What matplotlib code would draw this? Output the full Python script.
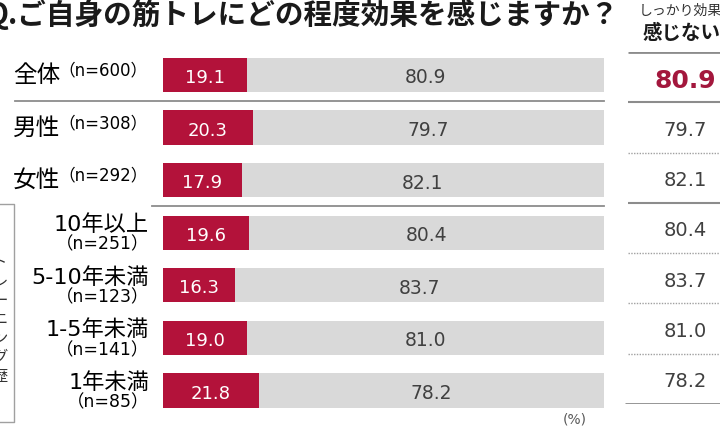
import matplotlib
matplotlib.use('Agg')
import matplotlib.pyplot as plt
from matplotlib.transforms import blended_transform_factory

plt.rcParams['font.family'] = ['DejaVu Sans', 'Noto Sans CJK JP']

# data
title = 'Q.ご自身の筋トレにどの程度効果を感じますか？'
groups = ['全体', '男性', '女性', '10年以上', '5-10年未満', '1-5年未満', '1年未満']
n_sizes = [600, 308, 292, 251, 123, 141, 85]
felt = [19.1, 20.3, 17.9, 19.6, 16.3, 19.0, 21.8]
not_felt = [80.9, 79.7, 82.1, 80.4, 83.7, 81.0, 78.2]
side_header = ['しっかり効果を', '感じない']
side_axis_label = 'トレーニング歴'

RED = '#b3123a'
DARK_RED = '#a3173d'
GRAY = '#d9d9d9'
LINE = '#8c8c8c'
W, H = 720, 435
JP = ['Noto Sans CJK JP']

fig = plt.figure(figsize=(7.2, 4.35), dpi=100)

# full-figure layer in pixel units for the decorations
bg = fig.add_axes([0, 0, 1, 1])
bg.set_xlim(0, W)
bg.set_ylim(H, 0)
bg.axis('off')


def box(l, t, r, b):
    return [l / W, 1 - b / H, (r - l) / W, (b - t) / H]


# main bar panel
ax = fig.add_axes(box(163, 49.7, 604, 417.8))
ax.set_xlim(0, 100)
ax.set_ylim(len(groups) - 0.5, -0.5)
ax.axis('off')

rows = list(range(len(groups)))
ax.barh(rows, felt, height=0.65, color=RED)
ax.barh(rows, not_felt, left=felt, height=0.65, color=GRAY)
for i, (a, b) in enumerate(zip(felt, not_felt)):
    ax.text(a / 2, i, f'{a:.1f}', color='white', ha='center', va='center_baseline', fontsize=13)
    ax.text(a + b / 2, i, f'{b:.1f}', color='#404040', ha='center', va='center_baseline', fontsize=13.5)

# row labels: x in pixels, y in row units
trans = blended_transform_factory(bg.transData, ax.transData)
for i, (g, n) in enumerate(zip(groups, n_sizes)):
    if i < 3:
        bg.text(13, i - 0.02, g, transform=trans, ha='left', va='center', fontsize=17)
        bg.text(58, i - 0.1, f'（n={n}）', transform=trans, ha='left', va='center', fontsize=12)
    else:
        bg.text(149, i - 0.17, g, transform=trans, ha='right', va='center', fontsize=16)
        bg.text(149, i + 0.21, f'（n={n}）', transform=trans, ha='right', va='center', fontsize=12.5)

# separators between the blocks
bg.plot([15, 604], [0.5, 0.5], transform=trans, color=LINE, lw=1.3)
bg.plot([152, 604], [2.5, 2.5], transform=trans, color=LINE, lw=1.3)

# bracket for the training-history block
bg.plot([0, 14, 14, 0], [205, 205, 423, 423], color='#a0a0a0', lw=1)
for k, ch in enumerate(side_axis_label):
    bg.text(0, 262 + 19 * k, ch, ha='center', va='center', fontsize=11, family=JP, color='#333333')

# title, partly cut at the left edge
bg.text(619, 15, title, ha='right', va='center', fontsize=20.6, fontweight='bold', family=JP, color='#1a1a1a')

# right-hand summary column
tax = fig.add_axes(box(625, 53, 720, 405))
tax.set_xlim(0, 1)
tax.set_ylim(len(groups) - 0.5, -0.5)
tax.axis('off')
tax.hlines(-0.5, 0.03, 1, color=LINE, lw=2)
tax.hlines([0.5, 2.5], 0.03, 1, color=LINE, lw=1.5)
tax.hlines([1.5, 3.5, 4.5, 5.5], 0.03, 1, color='#a0a0a0', lw=1, linestyles=(0, (1, 1)))
tax.hlines(len(groups) - 0.5, 0, 1, color=LINE, lw=2)
for i, v in enumerate(not_felt):
    if i == 0:
        tax.text(0.63, i, f'{v:.1f}', ha='center', va='center_baseline', fontsize=18,
                 fontweight='bold', color=DARK_RED)
    else:
        tax.text(0.63, i, f'{v:.1f}', ha='center', va='center_baseline', fontsize=14, color='#404040')

bg.text(639, 11, side_header[0], ha='left', va='center', fontsize=10, family=JP, color='#333333')
bg.text(643, 33, side_header[1], ha='left', va='center', fontsize=14, fontweight='bold', family=JP, color='#1a1a1a')

bg.text(575, 420, '(%)', ha='center', va='center', fontsize=10, color='#595959')

fig.savefig('out.png', dpi=100)
